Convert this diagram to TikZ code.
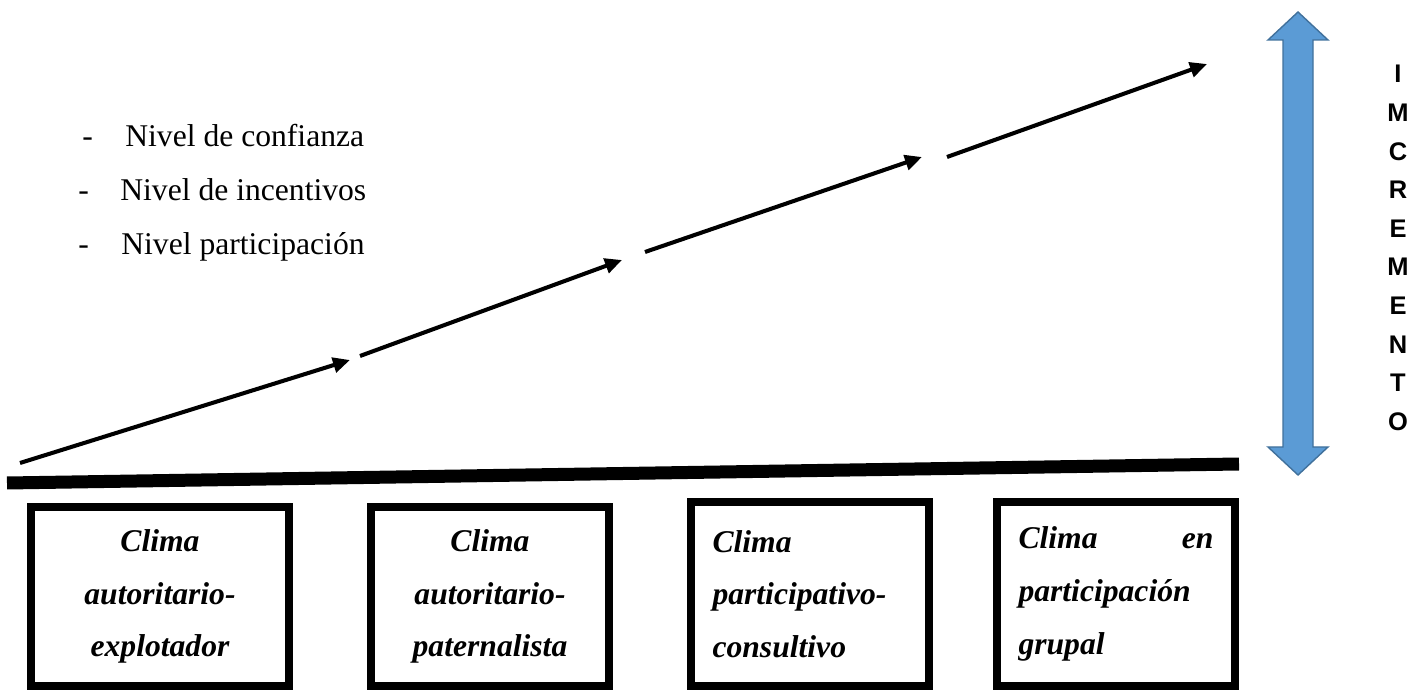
\documentclass[tikz,border=0pt]{standalone}
\usepackage{fontspec}
\setmainfont{Liberation Serif}
\setsansfont{Liberation Sans}
\usepackage{xcolor}
\usepackage{tikz}
\usetikzlibrary{arrows.meta,positioning}
\definecolor{incblue}{HTML}{5B9BD5}
\definecolor{incborder}{HTML}{41719C}
\tikzset{
	clima/.style={draw, line width=4.5pt, inner sep=0mm, minimum width=4.76cm, minimum height=3.68cm, text width=3.9cm, align=left, font=\bfseries\itshape\fontsize{18}{30}\selectfont},
	nivel/.style={anchor=base west, inner sep=0mm, font=\fontsize{18}{22}\selectfont},
	trend/.style={line width=2.3pt, -{Triangle[length=3.4mm,width=3mm]}},
	incremento/.style={align=center, inner sep=0mm, font=\sffamily\bfseries\fontsize{14.5}{22}\selectfont}
}

\begin{document}
\begin{tikzpicture}[x=0.02cm, y=-0.02cm]
			\useasboundingbox (0,0) rectangle (1421,692);
			
			% Indicators list is drawn.
			\node[nivel] (guion-1) at (82,147) {-};
			\node[nivel] (guion-2) at (78,201) {-};
			\node[nivel] (guion-3) at (78,255) {-};
			\node[nivel] (nivel-1) at (125,147) {Nivel de confianza};
			\node[nivel] (nivel-2) at (120,201) {Nivel de incentivos};
			\node[nivel] (nivel-3) at (121,255) {Nivel participación};
			
			% Rising arrows.
			\coordinate (t0) at (20,463);
			\coordinate (t1) at (350,360);
			\coordinate (t2) at (360,356);
			\coordinate (t3) at (622,260);
			\coordinate (t4) at (645,252);
			\coordinate (t5) at (922,157);
			\coordinate (t6) at (947,157);
			\coordinate (t7) at (1207,64);
			\draw[trend] (t0) -- (t1);
			\draw[trend] (t2) -- (t3);
			\draw[trend] (t4) -- (t5);
			\draw[trend] (t6) -- (t7);
			
			% Base line over the boxes.
			\coordinate (base-west) at (7,483);
			\coordinate (base-east) at (1239,464);
			\draw[line width=0.26cm] (base-west) -- (base-east);
			
			% Climate boxes are drawn.
			\node[clima, minimum width=5.16cm, minimum height=3.58cm, text width=4.2cm, align=center] (clima-1) at (160,596.5) {Clima\\autoritario-\\explotador};
			\node[clima, minimum height=3.58cm, text width=4.2cm, align=center] (clima-2) at (490,596.5) {Clima\\autoritario-\\paternalista};
			\node[clima] (clima-3) at (810,594) {Clima\\participativo-\\consultivo};
			\node[clima] (clima-4) at (1116,594) {\makebox[3.9cm]{Clima\hfill en}\\participación\\grupal};
			
			% Increment arrow and its label.
			\draw[incborder, fill=incblue, line width=0.8pt] (1298,12) -- (1328,40) -- (1313,40) -- (1313,447) -- (1328,447) -- (1298,475) -- (1268,447) -- (1283,447) -- (1283,40) -- (1268,40) -- cycle;
			\node[incremento] (incremento) at (1398,248) {I\\M\\C\\R\\E\\M\\E\\N\\T\\O};
			
		\end{tikzpicture}
\end{document}
